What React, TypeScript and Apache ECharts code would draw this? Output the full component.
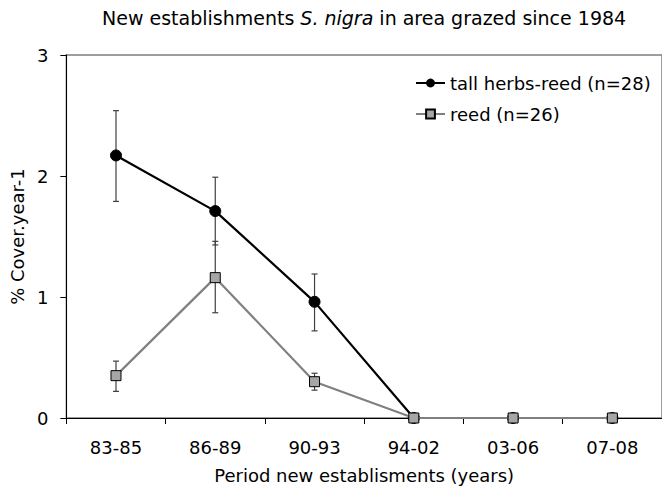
import React, { useEffect, useRef } from "react";
import * as echarts from "echarts";

const categories = ["83-85", "86-89", "90-93", "94-02", "03-06", "07-08"];
const tallValues = [2.17, 1.71, 0.96, 0, 0, 0];
const tallErrLow = [1.79, 1.43, 0.72];
const tallErrHigh = [2.54, 1.99, 1.19];
const reedValues = [0.35, 1.16, 0.3, 0, 0, 0];
const reedErrLow = [0.22, 0.87, 0.23];
const reedErrHigh = [0.47, 1.46, 0.37];
const yTicks = [0, 1, 2, 3];

const FONT = "DejaVu Sans";
const FS = 18;

function errData(low: number[], high: number[]) {
  return low.map((l, i) => [i, l, high[i]]);
}

function errSeries(data: number[][]) {
  return {
    type: "custom",
    z: 1,
    silent: true,
    clip: false,
    data,
    encode: { x: 0, y: [1, 2] },
    renderItem: (params: any, api: any) => {
      const x = api.value(0);
      const lo = api.coord([x, api.value(1)]);
      const hi = api.coord([x, api.value(2)]);
      const cap = 3;
      const style = { stroke: "#404040", lineWidth: 1.2 };
      return {
        type: "group",
        children: [
          { type: "line", shape: { x1: lo[0], y1: lo[1], x2: hi[0], y2: hi[1] }, style },
          { type: "line", shape: { x1: lo[0] - cap, y1: lo[1], x2: lo[0] + cap, y2: lo[1] }, style },
          { type: "line", shape: { x1: hi[0] - cap, y1: hi[1], x2: hi[0] + cap, y2: hi[1] }, style },
        ],
      };
    },
  };
}

export default function App() {
  const ref = useRef<HTMLDivElement>(null);
  useEffect(() => {
    if (!ref.current) return;
    const chart = echarts.init(ref.current, undefined, { renderer: "svg" });
    chart.setOption({
      animation: false,
      backgroundColor: "#fff",
      textStyle: { fontFamily: FONT, color: "#000" },
      title: {
        text: "New establishments {i|S. nigra} in area grazed since 1984",
        left: 97,
        top: 3,
        textStyle: {
          fontFamily: FONT,
          fontSize: 19,
          fontWeight: "normal",
          color: "#000",
          rich: {
            i: { fontFamily: FONT, fontSize: 19, fontStyle: "italic", color: "#000" },
          },
        },
      },
      legend: {
        orient: "vertical",
        left: 410,
        top: 68,
        itemWidth: 29,
        itemHeight: 11,
        itemGap: 11,
        textStyle: { fontFamily: FONT, fontSize: FS, color: "#000", lineHeight: 20 },
        data: ["tall herbs-reed (n=28)", "reed (n=26)"],
      },
      grid: {
        left: 64,
        top: 55,
        width: 606,
        height: 363,
        show: true,
        borderColor: "#7f7f7f",
        borderWidth: 1.5,
        containLabel: false,
      },
      xAxis: {
        type: "category",
        data: categories,
        boundaryGap: true,
        name: "Period new establisments (years)",
        nameLocation: "middle",
        nameGap: 48,
        nameTextStyle: { fontFamily: FONT, fontSize: FS, color: "#000" },
        axisLine: { lineStyle: { color: "#000", width: 1 } },
        axisTick: { show: true, length: 6, lineStyle: { color: "#000" } },
        axisLabel: { fontFamily: FONT, fontSize: FS, color: "#000", margin: 20 },
        splitLine: { show: false },
      },
      yAxis: {
        type: "value",
        min: yTicks[0],
        max: yTicks[yTicks.length - 1],
        interval: 1,
        name: "% Cover.year-1",
        nameLocation: "middle",
        nameGap: 30,
        nameTextStyle: { fontFamily: FONT, fontSize: FS, color: "#000" },
        axisLine: { show: true, lineStyle: { color: "#000", width: 1 } },
        axisTick: { show: true, length: 6, lineStyle: { color: "#000" } },
        axisLabel: { fontFamily: FONT, fontSize: FS, color: "#000", margin: 18 },
        splitLine: { show: false },
      },
      series: [
        errSeries(errData(tallErrLow, tallErrHigh)),
        errSeries(errData(reedErrLow, reedErrHigh)),
        {
          name: "tall herbs-reed (n=28)",
          type: "line",
          z: 3,
          clip: false,
          data: tallValues,
          symbol: "circle",
          symbolSize: 11,
          showAllSymbol: true,
          lineStyle: { color: "#000", width: 2.2 },
          itemStyle: { color: "#000", borderColor: "#000" },
        },
        {
          name: "reed (n=26)",
          type: "line",
          z: 4,
          clip: false,
          data: reedValues,
          symbol: "rect",
          symbolSize: 10,
          showAllSymbol: true,
          lineStyle: { color: "#808080", width: 2.2 },
          itemStyle: { color: "#a6a6a6", borderColor: "#000", borderWidth: 1 },
        },
      ],
    });
    return () => chart.dispose();
  }, []);
  return (
    <div
      ref={ref}
      style={{ position: "absolute", left: 0, top: 0, width: 662, height: 489, overflow: "hidden" }}
    />
  );
}
